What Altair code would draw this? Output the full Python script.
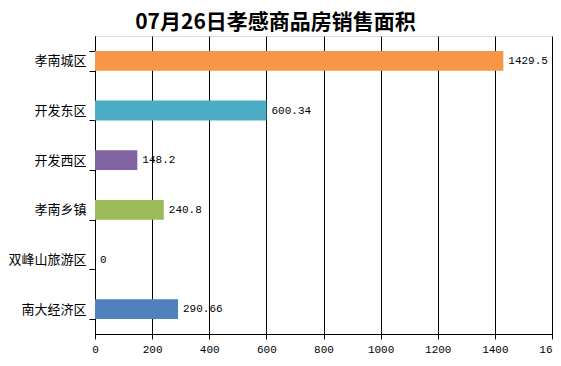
import altair as alt
import pandas as pd

regions = ["孝南城区", "开发东区", "开发西区", "孝南乡镇", "双峰山旅游区", "南大经济区"]
areas = [1429.5, 600.34, 148.2, 240.8, 0, 290.66]
labels = ["1429.5", "600.34", "148.2", "240.8", "0", "290.66"]
colors = ["#F79646", "#4BACC6", "#8064A2", "#9BBB59", "#C0504D", "#4F81BD"]
x_ticks = [0, 200, 400, 600, 800, 1000, 1200, 1400, 1600]

df = pd.DataFrame({"region": regions, "area": areas, "label": labels, "color": colors})

FONT = "Noto Sans CJK SC"
NUMFONT = "Liberation Mono"

y_enc = alt.Y("region:N", sort=regions,
              scale=alt.Scale(paddingInner=0.6, paddingOuter=0.3),
              axis=alt.Axis(title=None, tickBand="extent", tickSize=6, tickColor="black",
                            domainColor="black", labelColor="black", labelFont=FONT,
                            labelFontSize=13, labelPadding=3, grid=False))

bars = alt.Chart(df).mark_bar().encode(
    x=alt.X("area:Q", scale=alt.Scale(domain=[0, 1600], nice=False),
            axis=alt.Axis(title=None, values=x_ticks, format="d", grid=True,
                          gridColor="black", gridOpacity=1, tickColor="black",
                          domainColor="black", tickSize=5, labelColor="black",
                          labelFont=NUMFONT, labelFontSize=11, labelPadding=4,
                          labelFlush=False)),
    y=y_enc,
    color=alt.Color("color:N", scale=None),
)

text = alt.Chart(df).mark_text(align="left", baseline="middle", dx=5, font=NUMFONT,
                               fontSize=11, color="black").encode(
    x="area:Q",
    y=alt.Y("region:N", sort=regions),
    text="label:N",
)

chart = alt.layer(bars, text).properties(
    width=457, height=298,
    padding={"left": 87, "top": 28, "right": 1, "bottom": 24},
    autosize="none",
    title=alt.TitleParams("07月26日孝感商品房销售面积", font=FONT, fontSize=21,
                          fontWeight="bold", color="black", anchor="middle",
                          dx=-48, dy=3, offset=0),
).configure_view(stroke=None).configure(background="white")

chart.save("out.html", embed_options={"renderer": "svg", "actions": False})
